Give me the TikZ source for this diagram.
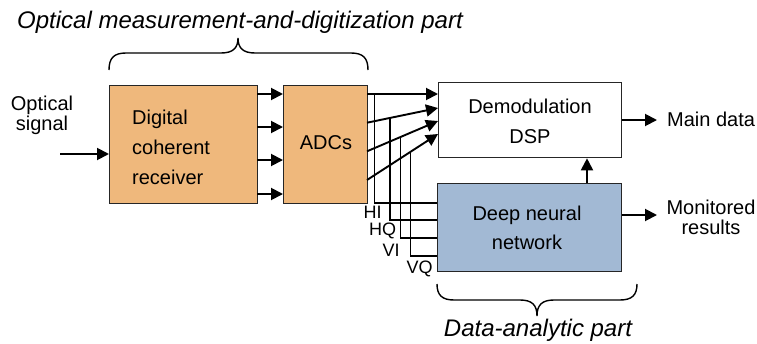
\documentclass[tikz,border=0pt]{standalone}
\usepackage{fontspec}
\setmainfont{Liberation Sans}
\usetikzlibrary{arrows.meta,calc}
\definecolor{rxfill}{HTML}{EFB87C}
\definecolor{nnfill}{HTML}{A2B9D4}
\begin{document}
\begin{tikzpicture}[x=1pt,y=-1pt,
  box/.style={draw=black!85, line width=1.3pt, inner sep=0pt, anchor=north west},
  wire/.style={line width=1.9pt, black},
  arr/.style={wire, -{Triangle[length=12pt,width=12pt]}},
  txt/.style={font=\fontsize{20}{30}\selectfont, inner sep=0pt, align=center},
  side/.style={font=\fontsize{20}{20}\selectfont, inner sep=0pt, align=center},
  tag/.style={font=\fontsize{18}{18}\selectfont, inner sep=0pt},
  part/.style={font=\fontsize{24}{24}\selectfont\itshape, inner sep=0pt},
  brace/.style={line width=1.4pt, black}]
\useasboundingbox (0,0) rectangle (757,343);

% blocks
\node[box, fill=rxfill, minimum width=148pt, minimum height=118pt] (rx) at (109,85) {};
\node[box, fill=rxfill, minimum width=84pt, minimum height=118pt] (adc) at (283,85) {};
\node[box, fill=white, minimum width=183pt, minimum height=75pt] (dsp) at (438,82) {};
\node[box, fill=nnfill, minimum width=184pt, minimum height=88pt] (dnn) at (437,183) {};

\node[txt, align=left, anchor=west] (rxt) at (132,147) {Digital\\coherent\\receiver};
\node[txt] (adct) at (326,143) {ADCs};
\node[txt] (dspt) at (530,121) {Demodulation\\DSP};
\node[font=\fontsize{20}{29}\selectfont, inner sep=0pt, align=center] (dnnt) at (527,228) {Deep neural\\network};

% optical input
\node[side] (insig) at (42,115) {Optical\\signal};
\coordinate (inS) at (60,154);
\draw[arr] (inS) -- (rx.west |- inS);

% receiver to ADCs
\foreach \yy [count=\i] in {94,127,160,194}{
  \coordinate (ra\i) at (257,\yy);
  \draw[arr] (ra\i) -- (adc.west |- ra\i);
}

% ADC outputs to the DSP
\coordinate (o1) at (367,94);    \coordinate (t1) at (438,94);
\coordinate (o2) at (367,122.7); \coordinate (t2) at (438,108);
\coordinate (o3) at (367,151.3); \coordinate (t3) at (438,121);
\coordinate (o4) at (367,180);   \coordinate (t4) at (438,134);
\foreach \i in {1,...,4}{ \draw[arr] (o\i) -- (t\i); }

% taps to the neural network
\coordinate (n1) at (437,203);
\coordinate (n2) at (437,220);
\coordinate (n3) at (437,238);
\coordinate (n4) at (437,256);
\draw[wire] ($(o1)!0.106!(t1)$) |- (n1);
\draw[wire] ($(o2)!0.324!(t2)$) |- (n2);
\draw[wire] ($(o3)!0.472!(t3)$) |- (n3);
\draw[wire] ($(o4)!0.613!(t4)$) |- (n4);

\node[tag] (hi) at (372.5,212) {HI};
\node[tag] (hq) at (382.5,231) {HQ};
\node[tag] (vi) at (391,250) {VI};
\node[tag] (vq) at (419.5,268.5) {VQ};

% outputs
\coordinate (md) at (657,120);
\draw[arr] (dsp.east |- md) -- (md);
\node[side, anchor=west] (mdt) at (667,119) {Main data};

\coordinate (mr) at (657,215);
\draw[arr] (dnn.east |- mr) -- (mr);
\node[side] (mrt) at (711,217) {Monitored\\results};

\coordinate (fb) at (587,183);
\draw[arr] (fb) -- (dsp.south -| fb);

% braces
\draw[brace] (109,70) .. controls (109,58) and (114,53) .. (126,53) -- (221,53)
  .. controls (233,53) and (238,48) .. (238,38)
  .. controls (238,48) and (243,53) .. (255,53) -- (351,53)
  .. controls (363,53) and (368,58) .. (368,70);
\node[part] (top) at (240,22) {Optical measurement-and-digitization part};

\draw[brace] (437,284) .. controls (437,295) and (442,300) .. (454,300) -- (520,300)
  .. controls (532,300) and (537,305) .. (537,316)
  .. controls (537,305) and (542,300) .. (554,300) -- (620,300)
  .. controls (632,300) and (637,295) .. (637,284);
\node[part] (bot) at (538,330) {Data-analytic part};
\end{tikzpicture}
\end{document}
